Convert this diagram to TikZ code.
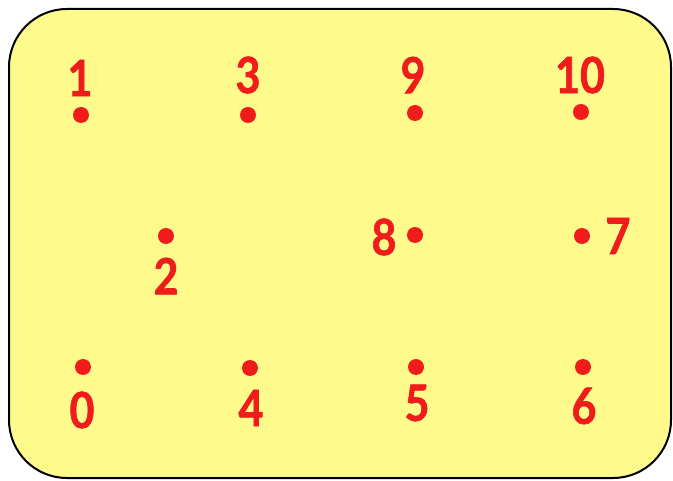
\documentclass[tikz,border=0pt]{standalone}
\usepackage{fontspec}
\newfontfamily\digitfont{Lato}[UprightFont=* Bold,FakeStretch=0.86,FakeBold=1.2]
\definecolor{boardyellow}{RGB}{255,250,140}
\definecolor{dotred}{RGB}{240,28,28}
\begin{document}
\begin{tikzpicture}[x=1pt,y=-1pt,
  dotmark/.style={circle,fill=dotred,inner sep=0pt,minimum size=16pt},
  numlabel/.style={text=dotred,inner sep=0pt,font=\digitfont\fontsize{50}{50}\selectfont}]
\useasboundingbox (0,0) rectangle (673,481);
\draw[fill=boardyellow,line width=2pt,rounded corners=58pt] (9,9) rectangle (671,478);
% dots
\node[dotmark] (d1) at (81,115) {};
\node[dotmark] (d3) at (248,115) {};
\node[dotmark] (d9) at (415,113) {};
\node[dotmark] (d10) at (581,112) {};
\node[dotmark] (d2) at (166,236) {};
\node[dotmark] (d8) at (415,235) {};
\node[dotmark] (d7) at (582,236) {};
\node[dotmark] (d0) at (83,367) {};
\node[dotmark] (d4) at (250,368) {};
\node[dotmark] (d5) at (416,367) {};
\node[dotmark] (d6) at (583,367) {};
% labels
\node[numlabel] (l1) at (80,78) {1};
\node[numlabel] (l3) at (248,75) {3};
\node[numlabel] (l9) at (413,75) {9};
\node[numlabel] (l10) at (580,75) {10};
\node[numlabel] (l2) at (166,276) {2};
\node[numlabel] (l8) at (384,237) {8};
\node[numlabel] (l7) at (618,236) {7};
\node[numlabel] (l0) at (82,410) {0};
\node[numlabel] (l4) at (251,408) {4};
\node[numlabel] (l5) at (417,403) {5};
\node[numlabel] (l6) at (584,406) {6};
\end{tikzpicture}
\end{document}
